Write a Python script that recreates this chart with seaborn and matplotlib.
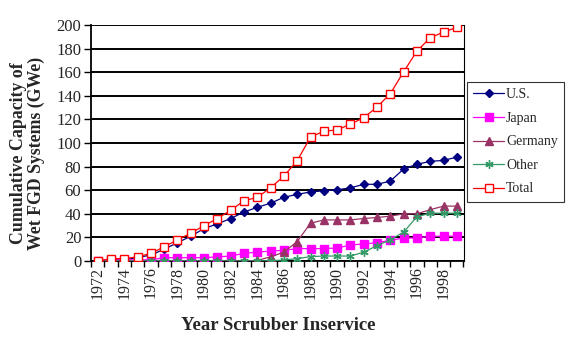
import matplotlib
matplotlib.use("Agg")
import matplotlib.pyplot as plt
import seaborn as sns
import pandas as pd

years = list(range(1972, 2000))
us = [0, 1, 1, 3, 5, 10, 15.5, 21, 27.5, 31.5, 36, 41.5, 45.5, 49, 54, 56.5, 58.5, 59.5, 60.3, 62,
      65, 65, 67.7, 78, 82, 84.4, 85.3, 88]
japan = [0, 1, 1, 1, 1, 2.8, 2.8, 2.8, 2.8, 3.5, 4.2, 6.5, 7.5, 8.5, 9, 10.5, 10.5, 10.5, 11, 13.5,
         14.5, 15.5, 17.5, 19.5, 19.5, 21, 21, 21]
germany = [0, 0, 0, 0, 0, 0, 0, 0, 0, 0, 0, 0, 0.5, 3.5, 7.5, 16.5, 32, 34.8, 34.8, 34.8,
           36, 36.9, 38, 40, 40, 43.5, 46.5, 46.5]
other = [0, 0, 0, 0, 0, 0, 0, 0, 0, 0, 0, 0, 0, 0.3, 0.8, 2, 3.7, 4.2, 4.2, 4.2,
         7.5, 13, 18, 24.5, 37.5, 40.5, 40.5, 40.5]
total = [0, 2, 2, 3.5, 6.5, 12, 18, 23.5, 30, 36, 43, 51, 54, 62, 72, 85, 105, 110, 111, 116,
         121.4, 130.5, 141.8, 160.3, 177.9, 189.2, 194, 198]
series_names = ["U.S.", "Japan", "Germany", "Other", "Total"]
series_values = [us, japan, germany, other, total]
yticks = list(range(0, 201, 20))

colors = ["#000080", "#FF00FF", "#993366", "#339966", "#FF0000"]
markers = ["D", "s", "^", (6, 2, 0), "s"]
msizes = [4.5, 5.5, 6, 6, 5.5]
faces = ["#000080", "#FF00FF", "#993366", "#339966", "white"]

sns.set_style("white")
plt.rcParams["font.family"] = ["Liberation Serif", "DejaVu Serif"]

fig = plt.figure(figsize=(5.71, 3.42), dpi=100)
ax = fig.add_axes([91 / 571, 1 - 261 / 342, (463.5 - 91) / 571, (261 - 25) / 342])

idx = list(range(len(years)))
for name, vals, c, m, ms, fc in zip(series_names, series_values, colors, markers, msizes, faces):
    df = pd.DataFrame({"x": idx, "y": vals})
    sns.lineplot(data=df, x="x", y="y", ax=ax, color=c, linewidth=0.9, marker=m,
                 markersize=ms, markerfacecolor=fc, markeredgecolor=c, markeredgewidth=1.0,
                 label=name, zorder=3)

ax.set_xlim(-0.5, len(years) - 0.5)
ax.set_ylim(0, 200)
ax.set_yticks(yticks)
ax.set_yticklabels([str(v) for v in yticks], fontsize=12)
for v in yticks:
    ax.axhline(v, color="black", linewidth=1.4, zorder=1)

ax.set_xticks([i for i in idx if years[i] % 2 == 0])
ax.set_xticklabels([str(years[i]) for i in idx if years[i] % 2 == 0], rotation=90, fontsize=11.5)
ax.set_xticks([i - 0.5 for i in idx] + [len(years) - 0.5], minor=True)
ax.tick_params(axis="x", which="major", bottom=True, length=0, pad=4)
ax.tick_params(axis="x", which="minor", bottom=True, length=4, width=1, color="black",
               direction="out")
ax.tick_params(axis="y", left=True, length=5, width=1, color="black", direction="out", pad=2)

for s in ["left", "bottom"]:
    ax.spines[s].set_color("black")
    ax.spines[s].set_linewidth(1.3)
ax.spines["top"].set_visible(False)
ax.spines["right"].set_color("black")
ax.spines["right"].set_linewidth(0.8)

ax.set_xlabel("")
ax.set_ylabel("")
fig.text(278 / 571, 1 - 325 / 342, "Year Scrubber Inservice", ha="center", va="center",
         fontsize=13.5, fontweight="bold")
fig.text(27.5 / 571, 1 - 153 / 342, "Cumulative Capacity of\nWet FGD Systems (GWe)", ha="center",
         va="center", rotation=90, fontsize=12.8, fontweight="bold", linespacing=1.05)

leg = ax.legend(loc="upper left", bbox_to_anchor=(467 / 571, 1 - 82 / 342),
                bbox_transform=fig.transFigure, frameon=True, fancybox=False, fontsize=10,
                handlelength=2.2, borderpad=0.45, labelspacing=0.76, handletextpad=0.15,
                borderaxespad=0)
leg.get_frame().set_edgecolor("black")
leg.get_frame().set_linewidth(0.8)

fig.savefig("out.png", dpi=100)
